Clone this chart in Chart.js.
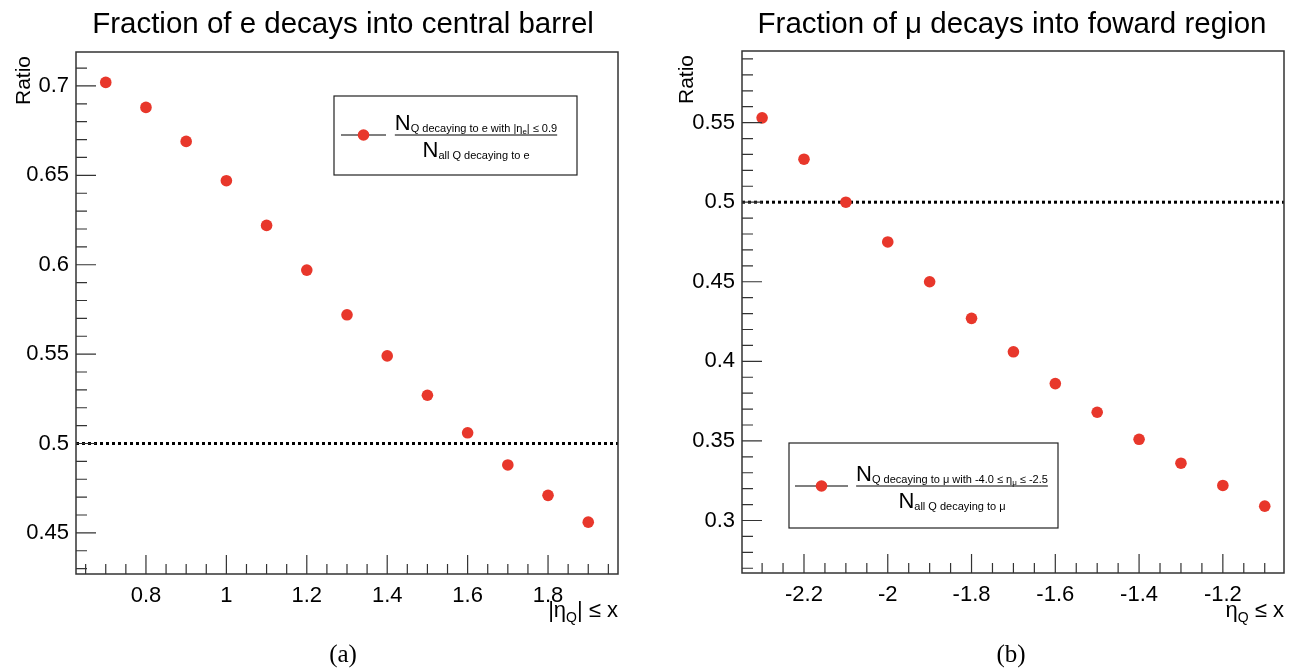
<!DOCTYPE html>
<html>
<head>
<meta charset="utf-8">
<title>Decay fractions</title>
<script src="https://cdn.jsdelivr.net/npm/chart.js@4"></script>
<style>
    body { margin: 0; background: #fff; }
    .panel { position: absolute; top: 0; }
</style>
</head>
<body>
<canvas id="chartE" class="panel" width="647" height="672" style="left:0"></canvas>
<canvas id="chartMu" class="panel" width="647" height="672" style="left:647px"></canvas>
<script>
// Datos: fraccion de electrones en el barril central
const etaCut = [0.7, 0.8, 0.9, 1.0, 1.1, 1.2, 1.3, 1.4, 1.5, 1.6, 1.7, 1.8, 1.9];
const ratioE = [0.702, 0.688, 0.669, 0.647, 0.622, 0.597, 0.572, 0.549, 0.527, 0.506, 0.488, 0.471, 0.456];

// Datos: fraccion de muones en la region frontal
const etaCutMu = [-2.3, -2.2, -2.1, -2.0, -1.9, -1.8, -1.7, -1.6, -1.5, -1.4, -1.3, -1.2, -1.1];
const ratioMu = [0.553, 0.527, 0.500, 0.475, 0.450, 0.427, 0.406, 0.386, 0.368, 0.351, 0.336, 0.322, 0.309];

const refRatio = 0.5;

// Rangos de los ejes
const xRangeE = [0.626, 1.974];
const yRangeE = [0.427, 0.719];
const xRangeMu = [-2.348, -1.054];
const yRangeMu = [0.267, 0.595];

const FONT = '"Liberation Sans", Arial, Helvetica, sans-serif';
const frameColor = '#333';
const markerColor = '#e8372b';

// Dibuja texto con subindices: parts = [{t, s, dy}]
function drawRich(ctx, parts, x, y, align) {
    let total = 0;
    parts.forEach(p => {
        ctx.font = p.s + 'px ' + FONT;
        p.w = ctx.measureText(p.t).width;
        total += p.w;
    });
    let cx = x;
    if (align === 'right') cx = x - total;
    if (align === 'center') cx = x - total / 2;
    ctx.textAlign = 'left';
    ctx.textBaseline = 'alphabetic';
    parts.forEach(p => {
        ctx.font = p.s + 'px ' + FONT;
        ctx.fillText(p.t, cx, y + (p.dy || 0));
        cx += p.w;
    });
    return total;
}

function fmt(v) {
    return String(parseFloat(v.toFixed(3)));
}

// Marco, marcas hacia dentro, titulos y leyenda al estilo ROOT
function panelPlugin(p) {
    return {
        id: 'panel',
        afterDraw(chart) {
            const ctx = chart.ctx;
            const a = chart.chartArea;
            const xs = chart.scales.x;
            const ys = chart.scales.y;
            ctx.save();
            ctx.strokeStyle = frameColor;
            ctx.lineWidth = 1.5;
            ctx.strokeRect(a.left, a.top, a.right - a.left, a.bottom - a.top);

            // marcas del eje y
            ctx.lineWidth = 1.2;
            ctx.beginPath();
            for (let k = Math.ceil(ys.min / 0.01 - 1e-6); k <= Math.floor(ys.max / 0.01 + 1e-6); k++) {
                const py = ys.getPixelForValue(k * 0.01);
                const len = (k % 5 === 0) ? 20 : 11;
                ctx.moveTo(a.left, py);
                ctx.lineTo(a.left + len, py);
            }
            // marcas del eje x
            for (let k = Math.ceil(xs.min / 0.05 - 1e-6); k <= Math.floor(xs.max / 0.05 + 1e-6); k++) {
                const px = xs.getPixelForValue(k * 0.05);
                const len = (k % 4 === 0) ? 19 : 10;
                ctx.moveTo(px, a.bottom);
                ctx.lineTo(px, a.bottom - len);
            }
            ctx.stroke();

            ctx.fillStyle = '#000';
            // titulo
            ctx.font = '29.5px ' + FONT;
            ctx.textAlign = 'center';
            ctx.textBaseline = 'alphabetic';
            ctx.fillText(p.title, p.titleX, 33);

            // titulo eje y
            ctx.save();
            ctx.translate(p.yTitleX, a.top + 4);
            ctx.rotate(-Math.PI / 2);
            ctx.font = '21px ' + FONT;
            ctx.textAlign = 'right';
            ctx.textBaseline = 'middle';
            ctx.fillText('Ratio', 0, 0);
            ctx.restore();

            // titulo eje x
            drawRich(ctx, p.xTitle, a.right, 617, 'right');

            // etiqueta (a)/(b)
            ctx.font = '25px "Liberation Serif", "DejaVu Serif", serif';
            ctx.textAlign = 'center';
            ctx.textBaseline = 'middle';
            ctx.fillText(p.caption, p.captionX, 655);

            // leyenda
            const L = p.legend;
            ctx.fillStyle = '#fff';
            ctx.fillRect(L.x, L.y, L.w, L.h);
            ctx.strokeStyle = '#222';
            ctx.lineWidth = 1.2;
            ctx.strokeRect(L.x, L.y, L.w, L.h);
            const my = L.y + L.barY;
            ctx.beginPath();
            ctx.moveTo(L.x + L.lineFrom, my);
            ctx.lineTo(L.x + L.lineTo, my);
            ctx.strokeStyle = '#000';
            ctx.lineWidth = 1.2;
            ctx.stroke();
            ctx.beginPath();
            ctx.arc(L.x + (L.lineFrom + L.lineTo) / 2, my, 5.8, 0, Math.PI * 2);
            ctx.fillStyle = markerColor;
            ctx.fill();

            ctx.fillStyle = '#000';
            const cx = L.x + L.fracX;
            const numW = drawRich(ctx, L.num, cx, my - 5, 'center');
            drawRich(ctx, L.den, cx, my + 22, 'center');
            ctx.beginPath();
            ctx.moveTo(cx - numW / 2, my);
            ctx.lineTo(cx + numW / 2, my);
            ctx.lineWidth = 1.2;
            ctx.stroke();
            ctx.restore();
        }
    };
}

function makeConfig(xv, yv, xr, yr, yWidth, pad, p) {
    const points = xv.map((x, i) => ({ x: x, y: yv[i] }));
    return {
        type: 'scatter',
        data: {
            datasets: [{
                data: points,
                backgroundColor: markerColor,
                borderWidth: 0,
                pointRadius: 5.8,
                order: 1
            }, {
                // linea de referencia en 0.5
                data: [{ x: xr[0], y: refRatio }, { x: xr[1], y: refRatio }],
                showLine: true,
                borderColor: '#000',
                borderWidth: 3,
                borderDash: [3, 3],
                pointRadius: 0,
                order: 2
            }]
        },
        options: {
            responsive: false,
            animation: false,
            layout: { padding: pad },
            plugins: {
                legend: { display: false },
                tooltip: { enabled: false }
            },
            scales: {
                x: {
                    type: 'linear',
                    min: xr[0],
                    max: xr[1],
                    grid: { display: false, drawTicks: false, tickLength: 0 },
                    border: { display: false },
                    ticks: {
                        stepSize: 0.2,
                        includeBounds: false,
                        autoSkip: false,
                        maxRotation: 0,
                        padding: 9,
                        color: '#000',
                        font: { family: FONT, size: 22 },
                        callback: v => fmt(v)
                    },
                    afterFit: s => { s.height = 40; }
                },
                y: {
                    type: 'linear',
                    min: yr[0],
                    max: yr[1],
                    grid: { display: false, drawTicks: false, tickLength: 0 },
                    border: { display: false },
                    ticks: {
                        stepSize: 0.05,
                        includeBounds: false,
                        padding: 7,
                        color: '#000',
                        font: { family: FONT, size: 22 },
                        callback: v => fmt(v)
                    },
                    afterFit: s => { s.width = yWidth; }
                }
            }
        },
        plugins: [panelPlugin(p)]
    };
}

const cfgE = makeConfig(etaCut, ratioE, xRangeE, yRangeE, 76,
    { left: 0, right: 29, top: 52, bottom: 58 }, {
        title: 'Fraction of e decays into central barrel',
        titleX: 343,
        yTitleX: 24,
        xTitle: [{ t: '|η', s: 22 }, { t: 'Q', s: 14, dy: 5 }, { t: '| ≤ x', s: 22 }],
        caption: '(a)',
        captionX: 343,
        legend: {
            x: 334, y: 96, w: 243, h: 79, barY: 39,
            lineFrom: 7, lineTo: 52, fracX: 142,
            num: [{ t: 'N', s: 22 }, { t: 'Q decaying to e with |η', s: 11, dy: 2 }, { t: 'e', s: 8, dy: 4 }, { t: '| ≤ 0.9', s: 11, dy: 2 }],
            den: [{ t: 'N', s: 22 }, { t: 'all Q decaying to e', s: 11, dy: 2 }]
        }
    });

const cfgMu = makeConfig(etaCutMu, ratioMu, xRangeMu, yRangeMu, 95,
    { left: 0, right: 10, top: 51, bottom: 59 }, {
        title: 'Fraction of μ decays into foward region',
        titleX: 365,
        yTitleX: 40,
        xTitle: [{ t: 'η', s: 22 }, { t: 'Q', s: 14, dy: 5 }, { t: ' ≤ x', s: 22 }],
        caption: '(b)',
        captionX: 364,
        legend: {
            x: 142, y: 443, w: 269, h: 85, barY: 43,
            lineFrom: 6, lineTo: 59, fracX: 163,
            num: [{ t: 'N', s: 22 }, { t: 'Q decaying to μ with -4.0 ≤ η', s: 11, dy: 2 }, { t: 'μ', s: 8, dy: 4 }, { t: ' ≤ -2.5', s: 11, dy: 2 }],
            den: [{ t: 'N', s: 22 }, { t: 'all Q decaying to μ', s: 11, dy: 2 }]
        }
    });

const chartE = new Chart(document.getElementById('chartE'), cfgE);
const chartMu = new Chart(document.getElementById('chartMu'), cfgMu);
</script>
</body>
</html>
